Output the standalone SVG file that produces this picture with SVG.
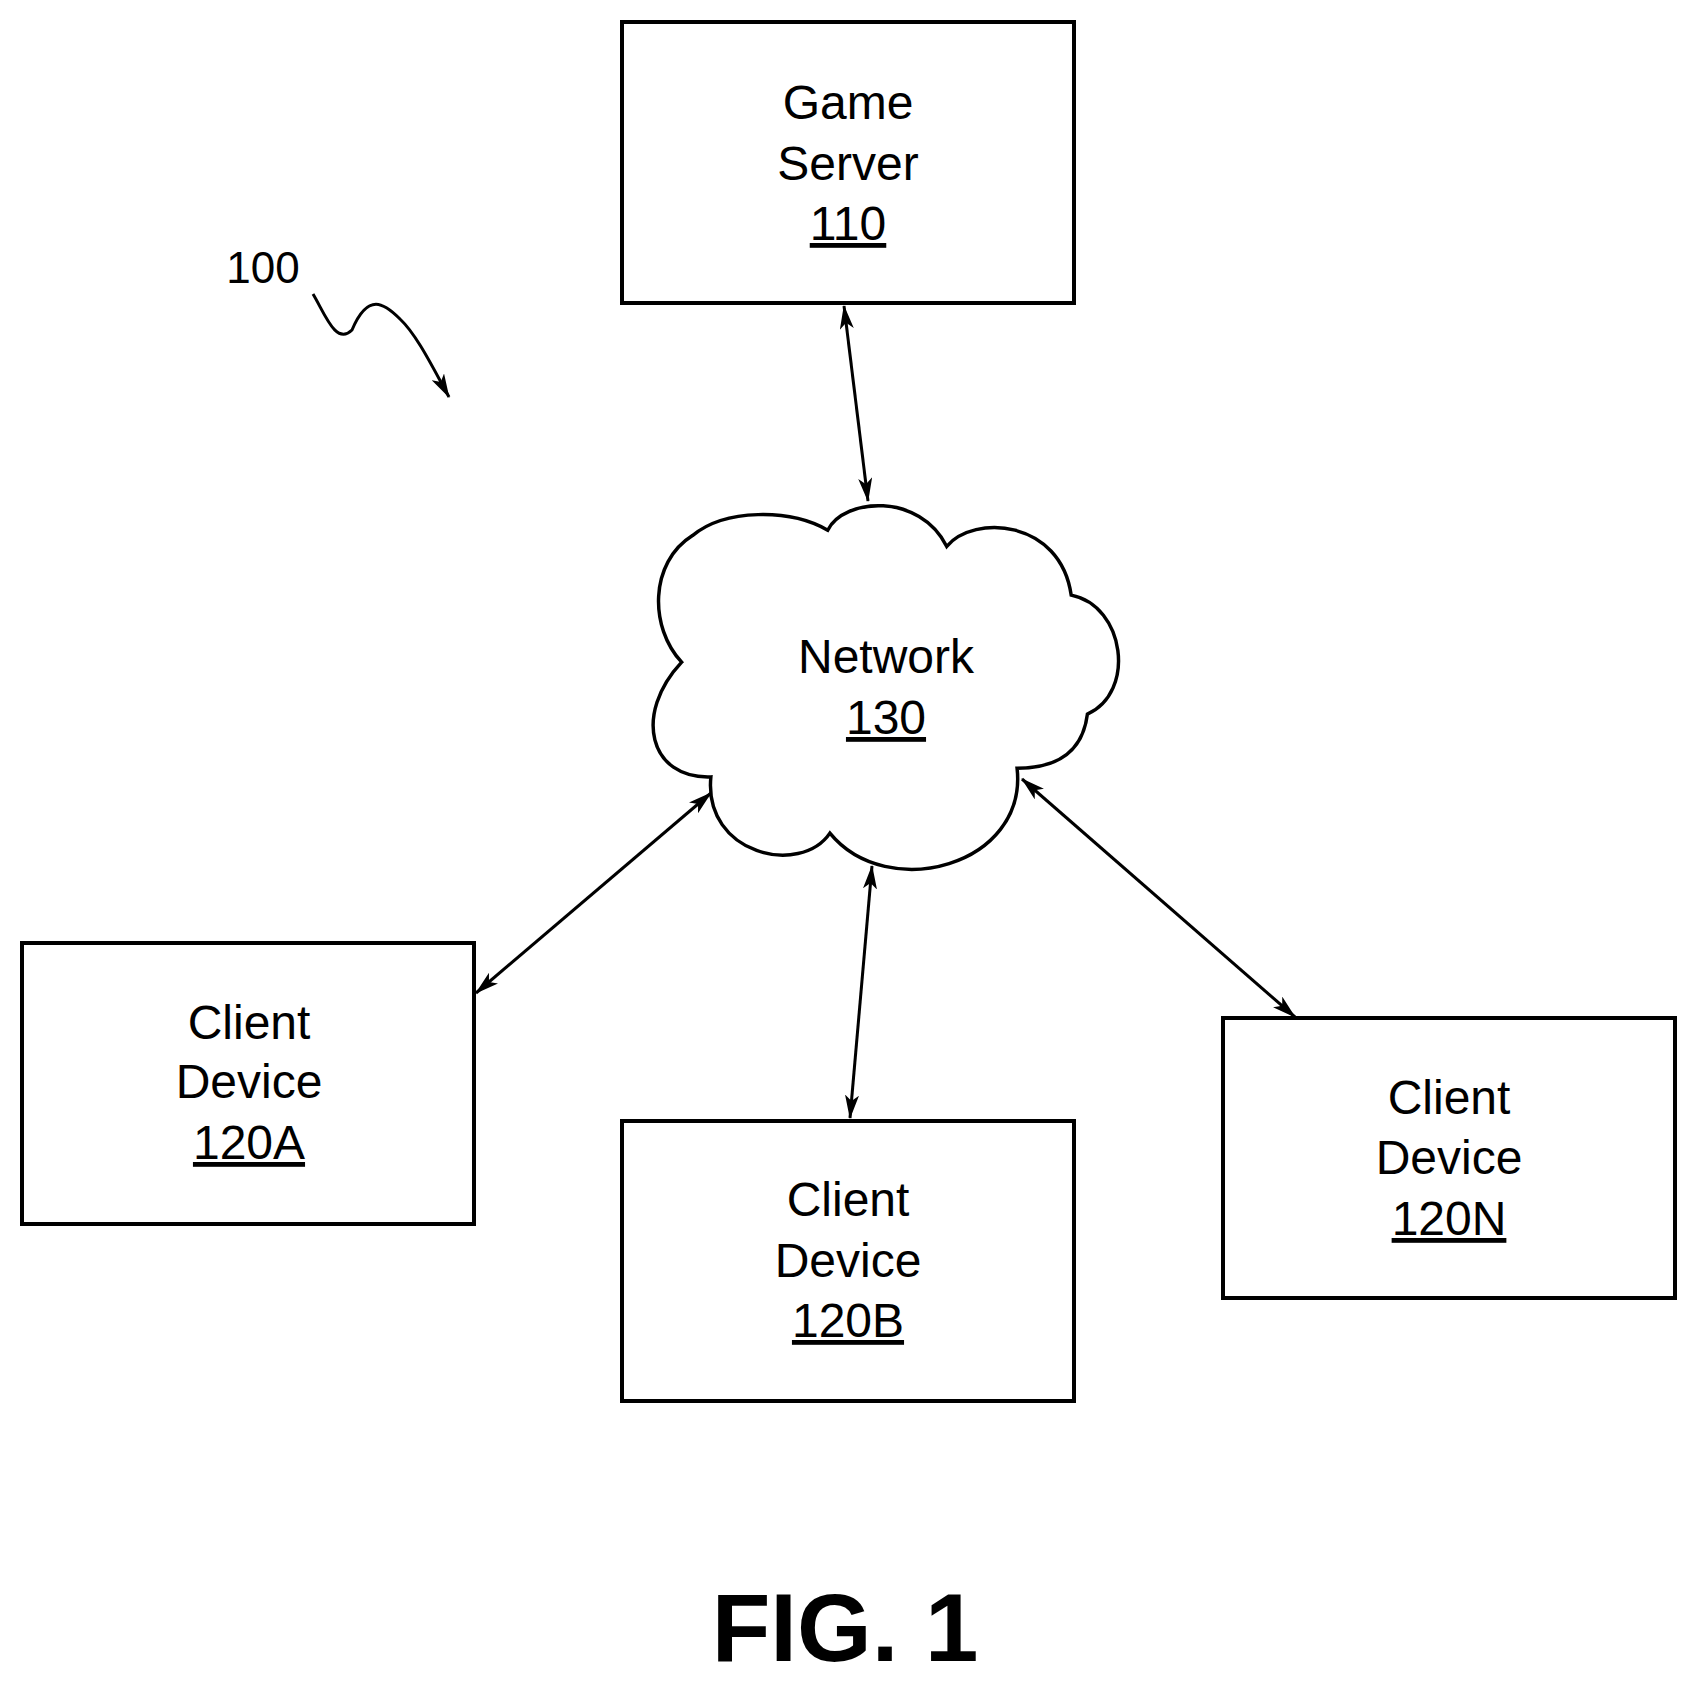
<svg xmlns="http://www.w3.org/2000/svg" width="1696" height="1684" viewBox="0 0 1696 1684">
<style>
.box{fill:#fff;stroke:#000;stroke-width:4}
.t{font-family:"Liberation Sans",Arial,sans-serif;font-size:48px;text-anchor:middle;fill:#000}
.u{text-decoration:underline}
.c{fill:none;stroke:#000;stroke-width:3}
</style>
<defs>
<marker id="a" viewBox="0 0 24 14" refX="23" refY="7" markerWidth="24" markerHeight="14" markerUnits="userSpaceOnUse" orient="auto-start-reverse"><path d="M0,0 L24,7 L0,14 L6,7 Z" fill="#000"/></marker>
</defs>
<rect width="1696" height="1684" fill="#fff"/>
<g id="server"><rect class="box" x="622" y="22" width="452" height="281"/>
<text class="t" x="848" y="119">Game</text><text class="t" x="848" y="180">Server</text><text class="t u" x="848" y="240">110</text></g>
<g id="network"><path transform="scale(1.082)" fill="#fff" stroke="#000" stroke-width="3.2" d="M630,612 C600,580 600,520 640,495 C670,470 730,470 765,490 C780,460 850,455 875,505 C900,475 980,480 990,550 C1040,560 1050,640 1005,660 C1000,700 970,710 940,710 C950,800 820,835 767,770 C740,810 650,790 657,718 C600,720 585,660 630,612 Z"/>
<text class="t" x="886" y="673">Network</text><text class="t u" x="886" y="734">130</text></g>
<g id="clientA"><rect class="box" x="22" y="943" width="452" height="281"/>
<text class="t" x="249" y="1039">Client</text><text class="t" x="249" y="1098">Device</text><text class="t u" x="249" y="1159">120A</text></g>
<g id="clientB"><rect class="box" x="622" y="1121" width="452" height="280"/>
<text class="t" x="848" y="1216">Client</text><text class="t" x="848" y="1277">Device</text><text class="t u" x="848" y="1337">120B</text></g>
<g id="clientN"><rect class="box" x="1223" y="1018" width="452" height="280"/>
<text class="t" x="1449" y="1114">Client</text><text class="t" x="1449" y="1174">Device</text><text class="t u" x="1449" y="1235">120N</text></g>
<g id="connectors">
<line class="c" x1="844" y1="306" x2="868" y2="501" marker-start="url(#a)" marker-end="url(#a)"/>
<line class="c" x1="476" y1="993" x2="711" y2="793" marker-start="url(#a)" marker-end="url(#a)"/>
<line class="c" x1="872" y1="866" x2="850" y2="1118" marker-start="url(#a)" marker-end="url(#a)"/>
<line class="c" x1="1022" y1="779" x2="1295" y2="1017" marker-start="url(#a)" marker-end="url(#a)"/>
<path class="c" d="M313,294 C325,314 336,346 352,330 C368,292 384,303 400,319 C417,335 433,368 449,397" marker-end="url(#a)"/>
</g>
<text class="t" x="263" y="283" style="font-size:44px">100</text>
<text class="t" x="845" y="1661" style="font-size:96px;font-weight:bold">FIG. 1</text>
</svg>
